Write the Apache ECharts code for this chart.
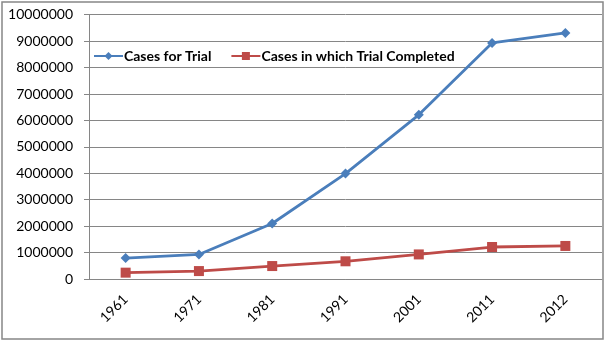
<!DOCTYPE html>
<html><head><meta charset="utf-8">
<script src="https://cdn.jsdelivr.net/npm/echarts@6/dist/echarts.min.js"></script>
<style>html,body{margin:0;padding:0;background:#fff}#c{width:607px;height:342px}</style>
</head><body><div id="c"></div>
<script>
const years = ['1961','1971','1981','1991','2001','2011','2012'];
const casesForTrial = [790000, 930000, 2100000, 3990000, 6210000, 8930000, 9310000];
const casesCompleted = [240000, 300000, 490000, 670000, 930000, 1210000, 1250000];
const seriesNames = ['Cases for Trial', 'Cases in which Trial Completed'];

const chart = echarts.init(document.getElementById('c'), null, {renderer: 'canvas'});
const font = 'Lato, "Open Sans", sans-serif';
chart.setOption({
  animation: false,
  backgroundColor: '#fff',
  textStyle: {fontFamily: font},
  graphic: [{
    type: 'rect', shape: {x: 2, y: 2, width: 601, height: 337},
    style: {fill: 'none', stroke: '#878787', lineWidth: 1.5}, silent: true, z: 100
  }],
  grid: {left: 89, right: 5, top: 14.7, bottom: 63, containLabel: false},
  legend: {
    left: 93, top: 49, padding: 0, itemWidth: 29, itemHeight: 10, itemGap: 19,
    textStyle: {fontFamily: font, fontSize: 14, fontWeight: 'bold', color: '#000', padding: [0,0,0,-4]},
    data: seriesNames
  },
  xAxis: {
    type: 'category', data: years, boundaryGap: true,
    axisLine: {lineStyle: {color: '#868686', width: 1}},
    axisTick: {length: 5, alignWithLabel: false, lineStyle: {color: '#868686'}},
    axisLabel: {rotate: 45, margin: 18, fontFamily: font, fontSize: 14, color: '#000'}
  },
  yAxis: {
    type: 'value', min: 0, max: 10000000, interval: 1000000,
    axisLine: {show: true, lineStyle: {color: '#868686', width: 1}},
    axisTick: {show: true, length: 5, lineStyle: {color: '#868686'}},
    axisLabel: {margin: 16, fontFamily: font, fontSize: 14, color: '#000', formatter: v => String(v)},
    splitLine: {lineStyle: {color: '#868686', width: 1}}
  },
  series: [{
    name: seriesNames[0], type: 'line', data: casesForTrial,
    symbol: 'diamond', symbolSize: 10,
    lineStyle: {color: '#4A7EBB', width: 2.8}, itemStyle: {color: '#4A7EBB'}
  }, {
    name: seriesNames[1], type: 'line', data: casesCompleted,
    symbol: 'rect', symbolSize: 10,
    lineStyle: {color: '#BE4B48', width: 2.8}, itemStyle: {color: '#BE4B48'}
  }]
});
</script></body></html>
